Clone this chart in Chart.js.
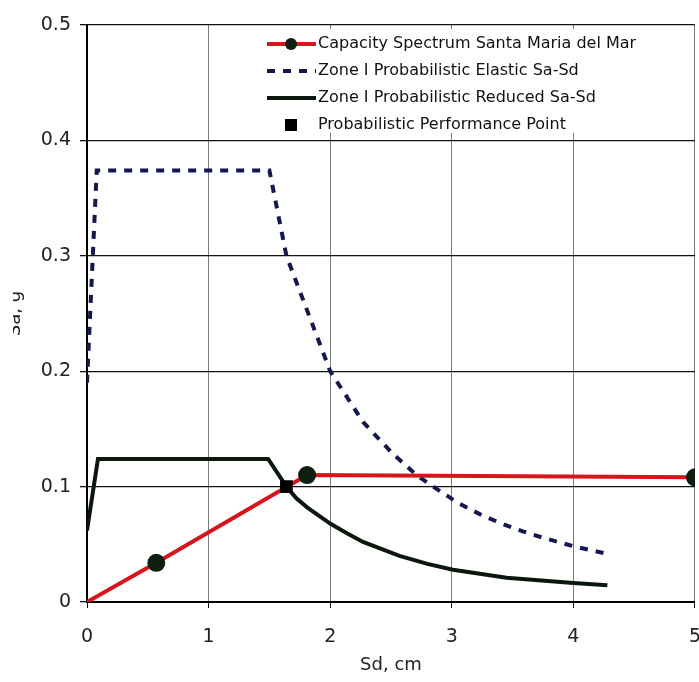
<!DOCTYPE html>
<html>
<head>
<meta charset="utf-8">
<script src="https://cdn.jsdelivr.net/npm/chart.js@4.4.0/dist/chart.umd.min.js"></script>
<style>
html,body{margin:0;padding:0;background:#fff;overflow:hidden}
#wrap{position:absolute;left:0;top:0;width:719px;height:682px}
#cut{position:absolute;left:0;top:0;width:13px;height:682px;background:#fff}
</style>
</head>
<body>
<div id="wrap"><canvas id="c"></canvas></div>
<div id="cut"></div>
<script>
// capacity spectrum
const capSd = [0, 0.57, 1.81, 5.0]
const capSa = [0, 0.034, 0.110, 0.108]

// elastic demand spectrum
const elSd = [0, 0.08, 1.5, 1.64, 2.0, 2.27, 2.51, 2.71, 2.89, 3.05, 3.25, 3.41, 3.59, 3.74, 3.91, 4.01, 4.27]
const elSa = [0.19, 0.374, 0.374, 0.3, 0.2, 0.156, 0.129, 0.110, 0.097, 0.086, 0.075, 0.068, 0.061, 0.056, 0.051, 0.048, 0.042]

// reduced demand spectrum
const redSd = [0, 0.09, 1.49, 1.64, 1.72, 1.81, 2.0, 2.13, 2.27, 2.57, 2.8, 3.01, 3.45, 4.0, 4.28]
const redSa = [0.062, 0.124, 0.124, 0.1, 0.09, 0.082, 0.068, 0.060, 0.052, 0.040, 0.033, 0.028, 0.021, 0.0165, 0.0145]

// performance point
const ppSd = [1.64]
const ppSa = [0.1]

const xTicks = [0, 1, 2, 3, 4, 5]
const yTicks = [0, 0.1, 0.2, 0.3, 0.4, 0.5]

function pts(xs, ys){
  return xs.map((x,i)=>({x:x, y:ys[i]}))
}

const legendBox = {
  id:"legendBox",
  afterDraw(chart){
    const ctx = chart.ctx
    ctx.save()
    ctx.fillStyle = "#fff"
    ctx.fillRect(255, 29, 436, 104)
    ctx.font = "16px 'DejaVu Sans'"
    ctx.textBaseline = "middle"
    chart.data.datasets.forEach((ds,i)=>{
      const y = 44 + i*27
      ctx.strokeStyle = ds.borderColor
      ctx.lineWidth = ds.borderWidth
      ctx.setLineDash(ds.borderDash || [])
      if(ds.showLine !== false){
        ctx.beginPath()
        ctx.moveTo(267, y)
        ctx.lineTo(316, y)
        ctx.stroke()
      }
      ctx.setLineDash([])
      if(ds.legendMark === "circle"){
        ctx.fillStyle = ds.pointBackgroundColor
        ctx.beginPath()
        ctx.arc(291, y, 6, 0, Math.PI*2)
        ctx.fill()
      }
      if(ds.legendMark === "rect"){
        ctx.fillStyle = ds.pointBackgroundColor
        ctx.fillRect(285, y-6, 12, 12)
      }
      ctx.fillStyle = "#111"
      ctx.fillText(ds.label, 318, y)
    })
    ctx.restore()
  }
}

new Chart(document.getElementById("c"),{
  type:"scatter",
  data:{
    datasets:[{
      label:"Capacity Spectrum Santa Maria del Mar",
      data:pts(capSd, capSa),
      showLine:true,
      borderColor:"#d6151c",
      borderWidth:4,
      pointRadius:ctx=>ctx.dataIndex===0 ? 0 : 9,
      pointBackgroundColor:"#0e1e10",
      pointBorderWidth:0,
      legendMark:"circle",
      order:1
    },{
      label:"Zone I Probabilistic Elastic Sa-Sd",
      data:pts(elSd, elSa),
      showLine:true,
      borderColor:"#15184f",
      borderWidth:4,
      borderDash:[8,8],
      pointRadius:0,
      order:3
    },{
      label:"Zone I Probabilistic Reduced Sa-Sd",
      data:pts(redSd, redSa),
      showLine:true,
      borderColor:"#0b170d",
      borderWidth:4,
      pointRadius:0,
      order:2
    },{
      label:"Probabilistic Performance Point",
      data:pts(ppSd, ppSa),
      showLine:false,
      borderColor:"#000",
      borderWidth:0,
      pointStyle:"rect",
      pointRadius:9,
      pointBackgroundColor:"#000",
      legendMark:"rect",
      order:0
    }]
  },
  options:{
    responsive:true,
    maintainAspectRatio:false,
    animation:false,
    layout:{padding:{top:25, right:0, left:0, bottom:0}},
    plugins:{legend:{display:false}, tooltip:{enabled:false}},
    scales:{
      x:{
        type:"linear", min:0, max:5,
        afterBuildTicks:s=>{ s.ticks = xTicks.map(v=>({value:v})) },
        afterFit:s=>{ s.height = 80 },
        grid:{color:"#7a7a7a", lineWidth:1, tickLength:6, tickColor:"#111"},
        border:{color:"#000", width:2},
        ticks:{color:"#222", font:{family:"DejaVu Sans", size:19}, padding:18},
        title:{display:true, text:"Sd, cm", color:"#222", font:{family:"DejaVu Sans", size:18}, padding:{top:0, bottom:6}}
      },
      y:{
        type:"linear", min:0, max:0.5,
        afterBuildTicks:s=>{ s.ticks = yTicks.map(v=>({value:v})) },
        afterFit:s=>{ s.width = 87 },
        grid:{color:"#111", lineWidth:1.3, tickLength:7, tickColor:"#111"},
        border:{color:"#000", width:2},
        ticks:{color:"#222", font:{family:"DejaVu Sans", size:19}, padding:9, callback:v=>v===0 ? "0" : v.toFixed(1)},
        title:{display:true, text:"Sa, g", color:"#222", font:{family:"DejaVu Sans", size:18}, padding:{top:5}}
      }
    }
  },
  plugins:[legendBox]
})
</script>
</body>
</html>
